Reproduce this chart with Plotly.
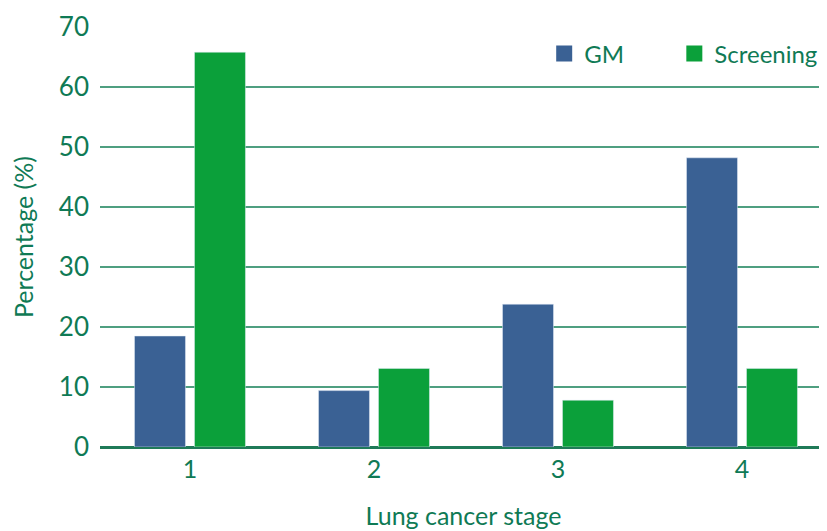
import plotly.graph_objects as go

stages = ["1", "2", "3", "4"]
gm = [18.5, 9.4, 23.8, 48.2]
screening = [65.8, 13.1, 7.8, 13.1]

TXT = "#0f7a55"
GM_COL = "#3a6194"
SC_COL = "#0ba03a"
FONT = "Lato"

fig = go.Figure()
fig.add_trace(go.Bar(x=stages, y=gm, name="GM", marker_color=GM_COL, showlegend=False))
fig.add_trace(go.Bar(x=stages, y=screening, name="Screening", marker_color=SC_COL, showlegend=False))
# legend entries
fig.add_trace(go.Scatter(x=[None], y=[None], mode="markers", name="GM", legend="legend",
                         marker=dict(symbol="square", size=19, color=GM_COL)))
fig.add_trace(go.Scatter(x=[None], y=[None], mode="markers", name="Screening", legend="legend2",
                         marker=dict(symbol="square", size=19, color=SC_COL)))

leg_common = dict(orientation="h", xanchor="left", yanchor="middle", y=0.936,
                  font=dict(size=24, color=TXT), bgcolor="rgba(0,0,0,0)", itemwidth=30)

# page body has an 8px margin, so the figure is sized to fill the rest of the window
fig.update_layout(
    width=819, height=523,
    margin=dict(l=92, r=0, t=19, b=84, autoexpand=False),
    plot_bgcolor="white", paper_bgcolor="white",
    barmode="group", bargap=0.348, bargroupgap=0.15,
    font=dict(family=FONT, color=TXT, size=24),
    legend=dict(x=0.611, **leg_common),
    legend2=dict(x=0.79, **leg_common),
)
fig.update_xaxes(
    type="category", range=[-0.489, 3.462], automargin=False,
    showgrid=False, showline=False, zeroline=False,
    ticks="", ticklabelstandoff=5, tickfont=dict(size=25, color=TXT),
    title=dict(text="Lung cancer stage", font=dict(size=25, color=TXT), standoff=25),
)
fig.update_yaxes(
    range=[0, 70], dtick=10, tick0=0, automargin=False,
    showgrid=True, gridcolor="#4f9f80", gridwidth=1.5,
    zeroline=True, zerolinecolor="#1f7a58", zerolinewidth=2.5,
    showline=False, ticks="", ticklabelstandoff=10,
    tickfont=dict(size=26, color=TXT),
    title=dict(text="Percentage (%)", font=dict(size=25, color=TXT), standoff=22),
)

fig.write_html("out.html")
